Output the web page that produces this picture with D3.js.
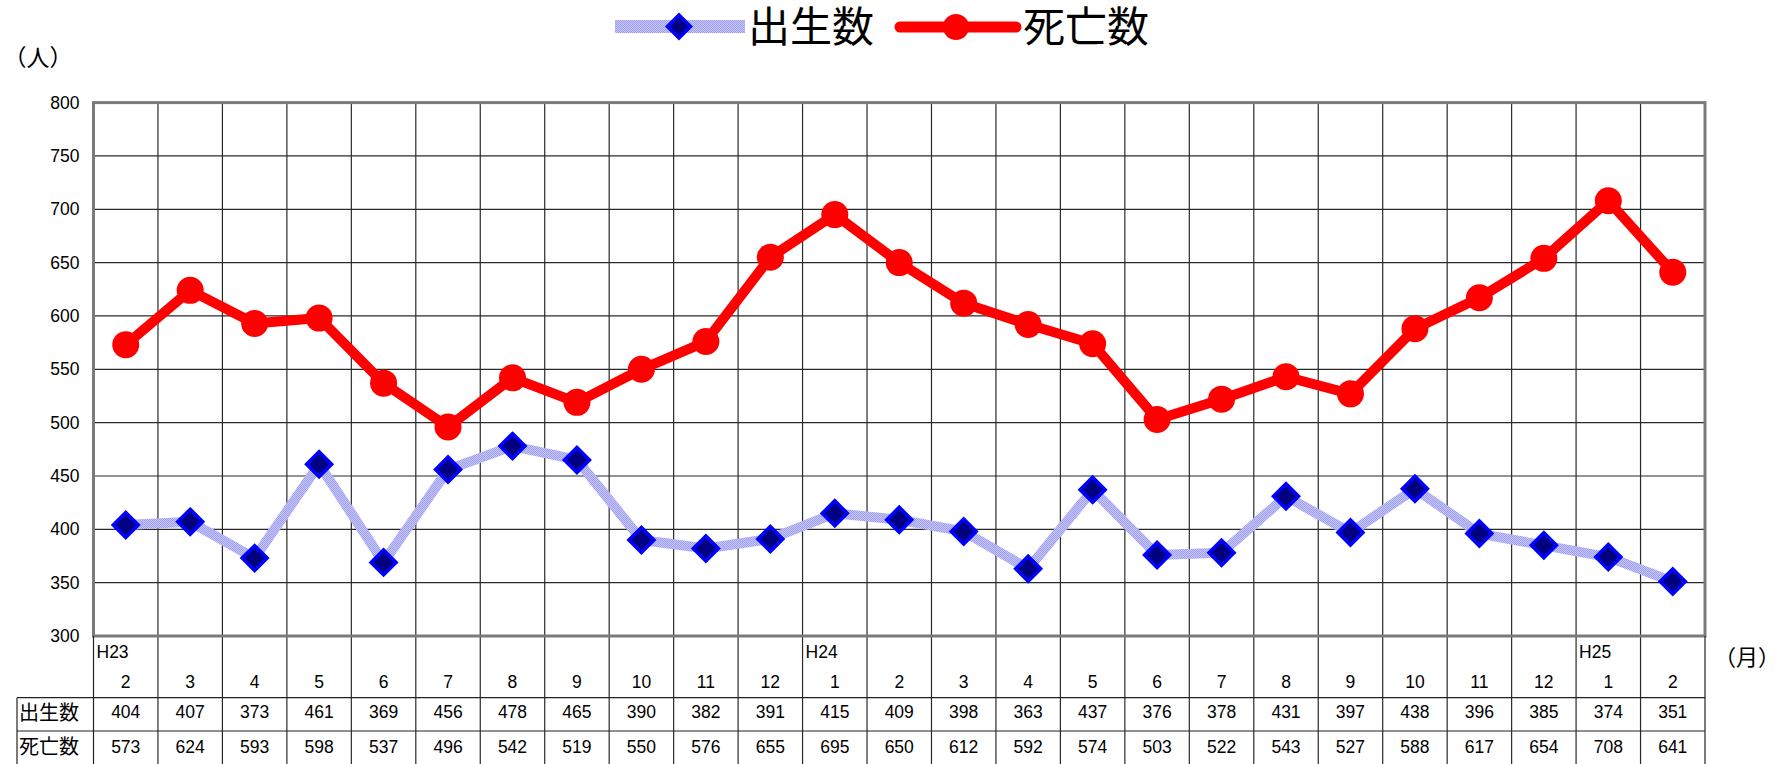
<!DOCTYPE html>
<html><head><meta charset="utf-8">
<script src="https://cdn.jsdelivr.net/npm/d3@7"></script>
<style>body{margin:0;background:#fff}svg{display:block}</style>
</head><body>
<svg id="c" width="1787" height="764"></svg>
<script>
const months = ["2","3","4","5","6","7","8","9","10","11","12","1","2","3","4","5","6","7","8","9","10","11","12","1","2"];
const yearLabels = ["H23","","","","","","","","","","","H24","","","","","","","","","","","","H25",""];
const births = [404,407,373,461,369,456,478,465,390,382,391,415,409,398,363,437,376,378,431,397,438,396,385,374,351];
const deaths = [573,624,593,598,537,496,542,519,550,576,655,695,650,612,592,574,503,522,543,527,588,617,654,708,641];
const yTicks = [300,350,400,450,500,550,600,650,700,750,800];
const seriesNames = ["出生数","死亡数"];

const svg = d3.select("#c");
const L = 93.5, R = 1705, T = 102.6, B = 636;
const idx = d3.range(months.length);
const x = d3.scaleBand().domain(idx).range([L, R]);
const y = d3.scaleLinear().domain([300, 800]).range([B, T]);
const cx = i => x(i) + x.bandwidth()/2;
const FONT = "'Liberation Sans', 'Noto Sans CJK JP', sans-serif";
const JFONT = "'Noto Sans CJK JP', sans-serif";

// gridlines
const g = svg.append("g");
g.selectAll("line.h").data(yTicks).join("line")
  .attr("x1", L).attr("x2", R).attr("y1", d => y(d)).attr("y2", d => y(d))
  .attr("stroke", "#2a2a2a").attr("stroke-width", 1.2);
g.selectAll("line.v").data(idx.slice(1)).join("line")
  .attr("x1", d => x(d)).attr("x2", d => x(d)).attr("y1", T).attr("y2", 764)
  .attr("stroke", "#2a2a2a").attr("stroke-width", 1.2);
// plot border
g.append("rect").attr("x", L).attr("y", T).attr("width", R - L).attr("height", B - T)
  .attr("fill", "none").attr("stroke", "#7a7a7a").attr("stroke-width", 3);
// y axis labels
const yAxis = d3.axisLeft(y).tickValues(yTicks).tickSize(0).tickPadding(14);
const ya = svg.append("g").attr("transform", `translate(${L},0)`).call(yAxis);
ya.select(".domain").remove();
ya.selectAll("text").attr("font-family", FONT).attr("font-size", 17.5).attr("fill", "#000");

// table lines
const tl = svg.append("g").attr("stroke", "#222").attr("stroke-width", 1.2);
tl.append("line").attr("x1", L).attr("x2", L).attr("y1", B).attr("y2", 764);
tl.append("line").attr("x1", R).attr("x2", R).attr("y1", B).attr("y2", 764);
[697.7, 731].forEach(yy => tl.append("line").attr("x1", 17).attr("x2", R).attr("y1", yy).attr("y2", yy));
tl.append("line").attr("x1", 17).attr("x2", 17).attr("y1", 697.7).attr("y2", 764);

// category labels
const tx = svg.append("g").attr("font-family", FONT).attr("font-size", 17.5).attr("fill", "#000");
tx.selectAll("text.yr").data(idx.filter(i => yearLabels[i])).join("text")
  .attr("x", i => x(i) + 3).attr("y", 658).text(i => yearLabels[i]);
tx.selectAll("text.mo").data(idx).join("text")
  .attr("x", cx).attr("y", 688).attr("text-anchor", "middle").text(i => months[i]);
tx.selectAll("text.b").data(idx).join("text")
  .attr("x", cx).attr("y", 718).attr("text-anchor", "middle").text(i => births[i]);
tx.selectAll("text.d").data(idx).join("text")
  .attr("x", cx).attr("y", 752.5).attr("text-anchor", "middle").text(i => deaths[i]);
svg.append("text").attr("x", 19).attr("y", 719.5).attr("font-family", JFONT).attr("font-size", 20).text(seriesNames[0]);
svg.append("text").attr("x", 19).attr("y", 753.5).attr("font-family", JFONT).attr("font-size", 20).text(seriesNames[1]);
svg.append("text").attr("x", 1747).attr("y", 665).attr("text-anchor", "middle").attr("font-family", JFONT).attr("font-size", 22).text("（月）");
svg.append("text").attr("x", 38).attr("y", 66).attr("text-anchor", "middle").attr("font-family", JFONT).attr("font-size", 23).text("（人）");

// pattern for pale blue line
const defs = svg.append("defs");
const pat = defs.append("pattern").attr("id", "hatch").attr("patternUnits", "userSpaceOnUse").attr("width", 2).attr("height", 2);
pat.append("rect").attr("width", 2).attr("height", 2).attr("fill", "#c6c6fb");
pat.append("rect").attr("width", 1).attr("height", 1).attr("fill", "#9f9ff0");
pat.append("rect").attr("x", 1).attr("y", 1).attr("width", 1).attr("height", 1).attr("fill", "#9f9ff0");

const line = d3.line().x((d, i) => cx(i)).y(d => y(d));
// deaths
svg.append("path").datum(deaths).attr("d", line).attr("fill", "none")
  .attr("stroke", "#ff0000").attr("stroke-width", 10).attr("stroke-linejoin", "round");
svg.selectAll("circle.d").data(deaths).join("circle")
  .attr("cx", (d, i) => cx(i)).attr("cy", d => y(d)).attr("r", 13.5).attr("fill", "#ff0000");
// births
svg.append("path").datum(births).attr("d", line).attr("fill", "none")
  .attr("stroke", "url(#hatch)").attr("stroke-width", 10).attr("stroke-linejoin", "round");
const dia = (px, py, r) => `M${px},${py - r}L${px + r},${py}L${px},${py + r}L${px - r},${py}Z`;
svg.selectAll("path.b").data(births).join("path")
  .attr("d", (d, i) => dia(cx(i), y(d), 12.5)).attr("fill", "#000080")
  .attr("stroke", "#0000ff").attr("stroke-width", 3.5);

// legend
const lg = svg.append("g");
lg.append("rect").attr("x", 615).attr("y", 20).attr("width", 130).attr("height", 13).attr("fill", "url(#hatch)");
lg.append("path").attr("d", dia(679, 26.5, 11.5)).attr("fill", "#000080").attr("stroke", "#0000ff").attr("stroke-width", 3.5);
lg.append("text").attr("x", 748).attr("y", 42).attr("font-family", JFONT).attr("font-size", 42).text(seriesNames[0]);
lg.append("line").attr("x1", 900).attr("x2", 1016).attr("y1", 27).attr("y2", 27).attr("stroke", "#ff0000").attr("stroke-width", 11).attr("stroke-linecap", "round");
lg.append("circle").attr("cx", 956).attr("cy", 27).attr("r", 13).attr("fill", "#ff0000");
lg.append("text").attr("x", 1023).attr("y", 42).attr("font-family", JFONT).attr("font-size", 42).text(seriesNames[1]);
</script>
</body></html>
